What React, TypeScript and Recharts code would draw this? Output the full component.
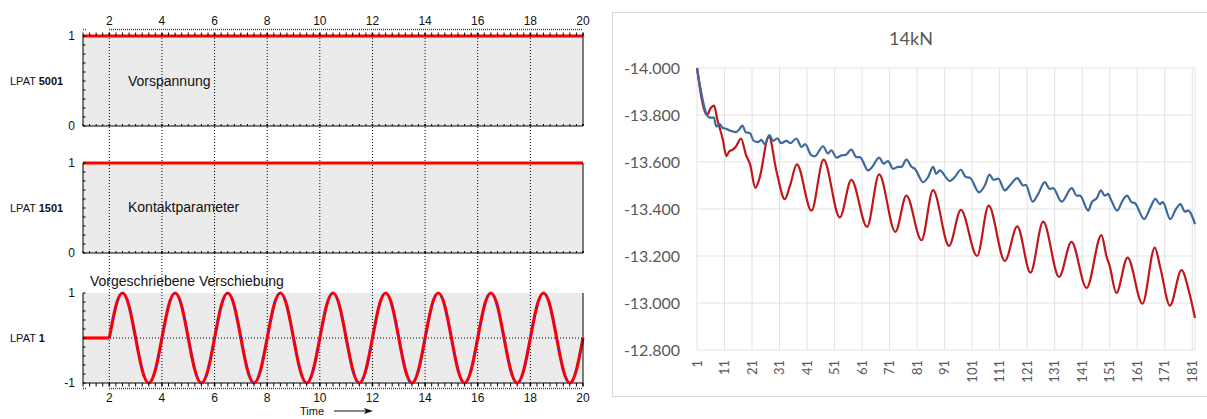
import React from "react";
import { LineChart, Line, XAxis, YAxis, CartesianGrid, ReferenceLine } from "recharts";

const PLOT_FONT = "'Liberation Sans', Arial, sans-serif";
const EXCEL_FONT = "Lato, 'Open Sans', sans-serif";

// ---------- left: load paths (LPAT) ----------
const timeLabels = [2, 4, 6, 8, 10, 12, 14, 16, 18, 20];
const timeGrid = [2, 4, 6, 8, 10, 12, 14, 16, 18];
const timeMinor = [
  1, 1.25, 1.5, 1.75, 2, 2.25, 2.5, 2.75, 3, 3.25, 3.5, 3.75, 4, 4.25, 4.5, 4.75, 5, 5.25, 5.5, 5.75,
  6, 6.25, 6.5, 6.75, 7, 7.25, 7.5, 7.75, 8, 8.25, 8.5, 8.75, 9, 9.25, 9.5, 9.75, 10, 10.25, 10.5, 10.75,
  11, 11.25, 11.5, 11.75, 12, 12.25, 12.5, 12.75, 13, 13.25, 13.5, 13.75, 14, 14.25, 14.5, 14.75, 15,
  15.25, 15.5, 15.75, 16, 16.25, 16.5, 16.75, 17, 17.25, 17.5, 17.75, 18, 18.25, 18.5, 18.75, 19, 19.25,
  19.5, 19.75, 20,
];
const unitTicks = [0, 0.1, 0.2, 0.3, 0.4, 0.5, 0.6, 0.7, 0.8, 0.9, 1];
const unitLabels = [0, 1];
const swingTicks = [-1, -0.8, -0.6, -0.4, -0.2, 0, 0.2, 0.4, 0.6, 0.8, 1];
const swingLabels = [-1, 1];

const vorspannungTime = [1, 20];
const vorspannungValue = [1, 1];
const kontaktTime = [1, 20];
const kontaktValue = [1, 1];
const verschiebungTime = [
  1, 2, 2.25, 2.5, 2.75, 3, 3.25, 3.5, 3.75, 4, 4.25, 4.5, 4.75, 5, 5.25, 5.5, 5.75, 6, 6.25, 6.5, 6.75,
  7, 7.25, 7.5, 7.75, 8, 8.25, 8.5, 8.75, 9, 9.25, 9.5, 9.75, 10, 10.25, 10.5, 10.75, 11, 11.25, 11.5,
  11.75, 12, 12.25, 12.5, 12.75, 13, 13.25, 13.5, 13.75, 14, 14.25, 14.5, 14.75, 15, 15.25, 15.5, 15.75,
  16, 16.25, 16.5, 16.75, 17, 17.25, 17.5, 17.75, 18, 18.25, 18.5, 18.75, 19, 19.25, 19.5, 19.75, 20,
];
const verschiebungValue = [
  0,
  0, 0.71, 1, 0.71, 0, -0.71, -1, -0.71,
  0, 0.71, 1, 0.71, 0, -0.71, -1, -0.71,
  0, 0.71, 1, 0.71, 0, -0.71, -1, -0.71,
  0, 0.71, 1, 0.71, 0, -0.71, -1, -0.71,
  0, 0.71, 1, 0.71, 0, -0.71, -1, -0.71,
  0, 0.71, 1, 0.71, 0, -0.71, -1, -0.71,
  0, 0.71, 1, 0.71, 0, -0.71, -1, -0.71,
  0, 0.71, 1, 0.71, 0, -0.71, -1, -0.71,
  0, 0.71, 1, 0.71, 0, -0.71, -1, -0.71,
  0,
];

// ---------- right: 14kN ----------
const cycleTicks = [1, 11, 21, 31, 41, 51, 61, 71, 81, 91, 101, 111, 121, 131, 141, 151, 161, 171, 181];
const forceTicks = [-14, -13.8, -13.6, -13.4, -13.2, -13, -12.8];

const redCycle = [
  1, 4.6, 6, 7.2, 8.4, 10.3, 11.7, 12.7, 13.9, 15.1, 17, 18.8, 20.3, 22.2, 23.7, 27.1, 29.9, 32.9, 34.7,
  37.3, 42.6, 47, 52.9, 57.1, 62.8, 67.2, 73.1, 77.1, 82.6, 86.8, 92.6, 96.9, 102.8, 107, 112.9, 117.4,
  122.2, 126.8, 132.6, 137.1, 142.6, 148, 149.8, 151, 153.4, 157.5, 162.9, 167.4, 169.4, 172.9, 177.1,
  179.8, 182,
];
const redForce = [
  -14.0, -13.8, -13.83, -13.84, -13.78, -13.7, -13.625, -13.645, -13.652, -13.665, -13.7, -13.63, -13.59,
  -13.49, -13.53, -13.71, -13.56, -13.442, -13.495, -13.59, -13.393, -13.61, -13.364, -13.524, -13.324,
  -13.547, -13.303, -13.457, -13.267, -13.48, -13.243, -13.396, -13.2, -13.414, -13.179, -13.326, -13.129,
  -13.346, -13.111, -13.26, -13.064, -13.289, -13.2, -13.157, -13.043, -13.193, -12.997, -13.236, -13.15,
  -12.989, -13.14, -13.05, -12.936,
];
const blueCycle = [
  1, 4.6, 5.6, 7.1, 8, 9.2, 10.2, 11.7, 13.5, 15.1, 16.5, 17.5, 18.7, 20.2, 21.6, 23.2, 24.4, 25.6, 27.4,
  28.6, 30.2, 31.6, 33.5, 34.9, 37.1, 39, 40.3, 42.5, 43.8, 46.8, 48.6, 49.8, 51.7, 53.5, 55, 57.1, 58.9,
  60.2, 63.2, 64.6, 67.2, 68.8, 70.4, 72.3, 74.1, 75.3, 77.1, 79, 80.2, 83.2, 85, 86.8, 88, 89.2, 92.9,
  94.7, 96.9, 98.7, 100.2, 103.5, 105.6, 107.3, 108.8, 110.5, 112.9, 114.7, 117.4, 119.6, 120.5, 123, 125,
  127.4, 129.2, 130.4, 133.5, 137.2, 139, 140.2, 143.2, 144.5, 146.3, 147.8, 149.2, 150.4, 151.6, 153.7,
  155.7, 157.3, 159, 160.1, 163.5, 165.8, 167.6, 169.2, 170.3, 173, 175.1, 176.7, 178.3, 179.5, 182,
];
const blueForce = [
  -14.0, -13.8, -13.789, -13.789, -13.751, -13.762, -13.746, -13.741, -13.732, -13.727, -13.741, -13.755,
  -13.727, -13.723, -13.69, -13.685, -13.694, -13.676, -13.715, -13.69, -13.701, -13.68, -13.69, -13.68,
  -13.7, -13.664, -13.676, -13.629, -13.624, -13.667, -13.636, -13.65, -13.619, -13.628, -13.63, -13.653,
  -13.621, -13.621, -13.564, -13.578, -13.619, -13.593, -13.604, -13.571, -13.579, -13.579, -13.61,
  -13.579, -13.571, -13.514, -13.536, -13.579, -13.55, -13.564, -13.519, -13.536, -13.567, -13.536,
  -13.533, -13.471, -13.5, -13.546, -13.524, -13.529, -13.479, -13.5, -13.531, -13.5, -13.503, -13.431,
  -13.464, -13.514, -13.486, -13.489, -13.431, -13.489, -13.457, -13.457, -13.393, -13.429, -13.446,
  -13.479, -13.457, -13.464, -13.436, -13.393, -13.436, -13.457, -13.429, -13.426, -13.357, -13.407,
  -13.443, -13.421, -13.429, -13.357, -13.4, -13.421, -13.389, -13.393, -13.336,
];

const zip = (xs: number[], ys: number[]) => xs.map((t, k) => ({ t, v: ys[k] }));

const txt = { fontFamily: PLOT_FONT, fontSize: 12, fill: "#111" };

// y-axis tick: small inward mark, label only on the listed values
function yTick(side: "left" | "right", labelled: number[]) {
  return (props: any) => {
    const { x, y, payload } = props;
    const v = payload.value;
    const show = labelled.includes(v);
    const dir = side === "left" ? 1 : -1;
    return (
      <g>
        <line x1={x} x2={x + dir * 2.5} y1={y} y2={y} stroke="#000" />
        {show && (
          <text x={x - dir * 8} y={y} dy="0.35em" textAnchor={side === "left" ? "end" : "start"} {...txt}>
            {v}
          </text>
        )}
      </g>
    );
  };
}

// time-axis tick drawn against a known axis line position
function xTick(axisY: number, dir: number, len: number, labelled: number[]) {
  return (props: any) => {
    const { x, payload } = props;
    const v = payload.value;
    const show = labelled.includes(v);
    const major = timeLabels.includes(v);
    return (
      <g>
        <line x1={x} x2={x} y1={axisY} y2={axisY + dir * len} stroke="#000" strokeWidth={major ? 1.6 : 1} />
        {show && (
          <text x={x} y={axisY + dir * 15} dy="0.35em" textAnchor="middle" {...txt}>
            {v}
          </text>
        )}
      </g>
    );
  };
}

const W = 610;
const H = 419;

function panel(o: {
  top: number;
  bottom: number;
  domain: [number, number];
  yTicks: number[];
  yLabels: number[];
  topAxis: boolean;
  bottomLabels: boolean;
  zeroLine: boolean;
  swing: boolean;
  data: { t: number; v: number }[];
}) {
  const topH = o.topAxis ? 20 : 0;
  const botH = o.bottomLabels ? 30 : 4;
  const [lo, hi] = o.domain;
  // swing panel: straight lead-in, then the oscillation as a smooth curve
  const lead = o.swing ? o.data.slice(0, 2) : o.data;
  const rest = o.data.slice(1);
  return (
    <LineChart
      width={W}
      height={H}
      margin={{ top: o.top - topH, bottom: H - o.bottom - botH, left: 53, right: 3 }}
    >
      {o.topAxis && (
        <XAxis
          xAxisId="top"
          orientation="top"
          type="number"
          dataKey="t"
          domain={[1, 20]}
          allowDataOverflow
          ticks={timeMinor}
          interval={0}
          height={topH}
          tickSize={0}
          tickMargin={0}
          tickLine={false}
          axisLine={false}
          tick={xTick(o.top, -1, 3.5, timeLabels)}
        />
      )}
      <XAxis
        xAxisId="t"
        orientation="bottom"
        type="number"
        dataKey="t"
        domain={[1, 20]}
        ticks={timeMinor}
        interval={0}
        height={botH}
        tickSize={0}
        tickMargin={0}
        tickLine={false}
        axisLine={false}
        tick={xTick(o.bottom, o.bottomLabels ? 1 : -1, o.bottomLabels ? 3.5 : 2, o.bottomLabels ? timeLabels : [])}
      />
      <YAxis
        yAxisId="l"
        type="number"
        domain={o.domain}
        ticks={o.yTicks}
        interval={0}
        width={30}
        tickSize={0}
        tickMargin={0}
        tickLine={false}
        axisLine={{ stroke: "#000" }}
        tick={yTick("left", o.yLabels)}
      />
      <YAxis
        yAxisId="r"
        orientation="right"
        type="number"
        domain={o.domain}
        ticks={o.yTicks}
        interval={0}
        width={24}
        tickSize={0}
        tickMargin={0}
        tickLine={false}
        axisLine={{ stroke: "#000" }}
        tick={yTick("right", o.yLabels)}
      />
      <CartesianGrid xAxisId="t" yAxisId="l" horizontal={false} vertical={false} fill="#ebebeb" />
      {timeGrid.map((t) => (
        <ReferenceLine key={t} xAxisId="t" yAxisId="l" x={t} stroke="#000" strokeDasharray="1 2" />
      ))}
      {o.zeroLine && (
        <ReferenceLine xAxisId="t" yAxisId="l" y={0} stroke="#000" strokeDasharray="1 2" />
      )}
      {/* frame lines: bottom always, top only where there is a time axis */}
      <ReferenceLine xAxisId="t" yAxisId="l" y={lo} stroke="#000" />
      {o.topAxis && <ReferenceLine xAxisId="t" yAxisId="l" y={hi} stroke="#000" />}
      <Line
        xAxisId="t"
        yAxisId="l"
        data={lead}
        dataKey="v"
        type="linear"
        stroke="#ff0000"
        strokeWidth={3.2}
        dot={false}
        isAnimationActive={false}
      />
      {o.swing && (
        <Line
          xAxisId="t"
          yAxisId="l"
          data={rest}
          dataKey="v"
          type="natural"
          stroke="#ff0000"
          strokeWidth={3.2}
          dot={false}
          isAnimationActive={false}
        />
      )}
      {o.swing && (
        <Line
          xAxisId="t"
          yAxisId="l"
          data={rest}
          dataKey="v"
          type="natural"
          stroke="#2b2bff"
          strokeWidth={2}
          strokeDasharray="1.5 8"
          dot={false}
          isAnimationActive={false}
        />
      )}
    </LineChart>
  );
}

const abs = (left: number, top: number): React.CSSProperties => ({ position: "absolute", left, top });

function CycleTick(props: any) {
  const { x, y, payload } = props;
  return (
    <text
      x={x}
      y={y + 8}
      dy="0.35em"
      textAnchor="end"
      transform={`rotate(-90, ${x}, ${y + 8})`}
      fontFamily={EXCEL_FONT}
      fontSize={13}
      fill="#595959"
    >
      {payload.value}
    </text>
  );
}

export default function App() {
  const vorspannung = zip(vorspannungTime, vorspannungValue);
  const kontakt = zip(kontaktTime, kontaktValue);
  const verschiebung = zip(verschiebungTime, verschiebungValue);
  const red = redCycle.map((x, k) => ({ x, f: redForce[k] }));
  const blue = blueCycle.map((x, k) => ({ x, f: blueForce[k] }));

  const label: React.CSSProperties = { fontFamily: PLOT_FONT, fontSize: 14, color: "#111", lineHeight: "16px", whiteSpace: "nowrap" };
  const lpat: React.CSSProperties = { fontFamily: PLOT_FONT, fontSize: 11, color: "#111", lineHeight: "14px", whiteSpace: "nowrap" };

  return (
    <div style={{ position: "absolute", left: 0, top: 0, width: 1207, height: 419, overflow: "hidden", background: "#fff" }}>
      {/* dotted time grid running through all three panels (behind them) */}
      <div style={abs(0, 0)}>
        <LineChart width={W} height={H} margin={{ top: 36, bottom: H - 383, left: 83, right: W - 583 }}>
          <XAxis type="number" dataKey="t" domain={[1, 20]} allowDataOverflow hide />
          <YAxis type="number" domain={[0, 1]} allowDataOverflow hide />
          {timeGrid.map((t) => (
            <ReferenceLine key={t} x={t} stroke="#000" strokeDasharray="1 2" ifOverflow="visible" />
          ))}
          <Line data={vorspannung} dataKey="v" stroke="none" dot={false} isAnimationActive={false} />
        </LineChart>
      </div>
      <div style={abs(0, 0)}>
        {panel({ top: 36, bottom: 126, domain: [0, 1], yTicks: unitTicks, yLabels: unitLabels, topAxis: true, bottomLabels: false, zeroLine: false, swing: false, data: vorspannung })}
      </div>
      <div style={abs(0, 0)}>
        {panel({ top: 163, bottom: 253, domain: [0, 1], yTicks: unitTicks, yLabels: unitLabels, topAxis: false, bottomLabels: false, zeroLine: false, swing: false, data: kontakt })}
      </div>
      <div style={abs(0, 0)}>
        {panel({ top: 293, bottom: 383, domain: [-1, 1], yTicks: swingTicks, yLabels: swingLabels, topAxis: false, bottomLabels: true, zeroLine: true, swing: true, data: verschiebung })}
      </div>

      <svg width={W} height={H} style={abs(0, 0)}>
        <line x1={83} x2={86} y1={29.5} y2={29.5} stroke="#2b2bff" strokeWidth={1.5} strokeDasharray="1 1" />
        <line x1={109} x2={583} y1={29.5} y2={29.5} stroke="#2b2bff" strokeWidth={1.5} strokeDasharray="1 1" />
        <line x1={83} x2={86} y1={388.5} y2={388.5} stroke="#2b2bff" strokeWidth={1.5} strokeDasharray="1 1" />
        <line x1={109} x2={583} y1={388.5} y2={388.5} stroke="#2b2bff" strokeWidth={1.5} strokeDasharray="1 1" />
        <text x={312} y={411} dy="0.35em" textAnchor="middle" fontFamily={PLOT_FONT} fontSize={11} fill="#111">Time</text>
        <line x1={334} x2={370} y1={411} y2={411} stroke="#111" strokeWidth={1} />
        <path d="M373,411 L364,408 L366,411 L364,414 Z" fill="#111" />
      </svg>

      <div style={{ ...abs(10, 74), ...lpat }}>LPAT <b>5001</b></div>
      <div style={{ ...abs(10, 201), ...lpat }}>LPAT <b>1501</b></div>
      <div style={{ ...abs(10, 331), ...lpat }}>LPAT <b>1</b></div>
      <div style={{ ...abs(128, 73), ...label }}>Vorspannung</div>
      <div style={{ ...abs(128, 199), ...label }}>Kontaktparameter</div>
      <div style={{ ...abs(90, 273), ...label }}>Vorgeschriebene Verschiebung</div>

      {/* right-hand Excel chart */}
      <div
        style={{
          position: "absolute",
          left: 612,
          top: 12,
          width: 598,
          height: 385,
          border: "1px solid #d9d9d9",
          boxSizing: "border-box",
          background: "#fff",
        }}
      >
        <div
          style={{
            position: "absolute",
            left: 0,
            top: 14,
            width: "100%",
            textAlign: "center",
            fontFamily: EXCEL_FONT,
            fontSize: 18,
            lineHeight: "22px",
            color: "#595959",
          }}
        >
          14kN
        </div>
        <LineChart width={596} height={383} margin={{ top: 55, right: 14, bottom: 6, left: 14 }}>
          <CartesianGrid stroke="#e3e3e3" />
          <XAxis
            type="number"
            dataKey="x"
            domain={[1, 182]}
            ticks={cycleTicks}
            interval={0}
            height={40}
            tickSize={0}
            tickLine={false}
            axisLine={false}
            tick={CycleTick}
          />
          <YAxis
            type="number"
            domain={[-14, -12.8]}
            reversed
            ticks={forceTicks}
            interval={0}
            width={70}
            tickSize={0}
            tickMargin={17}
            tickLine={false}
            axisLine={false}
            tickFormatter={(v: number) => v.toFixed(3)}
            tick={{ fill: "#595959", fontSize: 16, fontFamily: EXCEL_FONT }}
          />
          <Line
            data={red}
            dataKey="f"
            type="monotone"
            stroke="#c0161c"
            strokeWidth={2.2}
            dot={false}
            isAnimationActive={false}
          />
          <Line
            data={blue}
            dataKey="f"
            type="monotone"
            stroke="#3d6a9c"
            strokeWidth={2.2}
            dot={false}
            isAnimationActive={false}
          />
        </LineChart>
      </div>
    </div>
  );
}
